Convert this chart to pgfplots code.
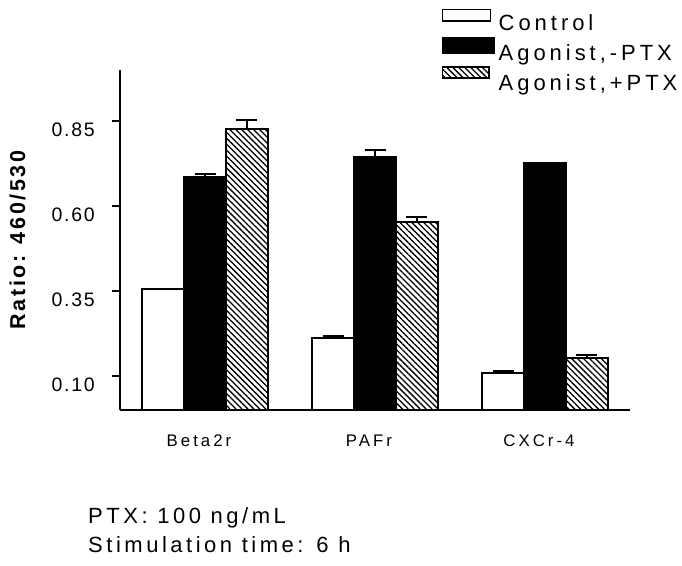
\documentclass[border=0pt]{standalone}
\usepackage{fontspec}
\setmainfont{Liberation Sans}
\usepackage{pgfplots}
\pgfplotsset{compat=1.18}
\usetikzlibrary{patterns.meta}
\newfontfamily\tickfont[LetterSpace=9]{Liberation Sans}
\newfontfamily\labfont[LetterSpace=18]{Liberation Sans}
\newfontfamily\botfont[LetterSpace=16]{Liberation Sans}
\newfontfamily\ylabfont[LetterSpace=12]{Liberation Sans}
\pgfplotstableread{
x y e
0 0.356 0.000
1 0.211 0.007
2 0.108 0.008
}\ctrl
\pgfplotstableread{
x y e
0 0.684 0.009
1 0.745 0.020
2 0.726 0.000
}\agminus
\pgfplotstableread{
x y e
0 0.826 0.026
1 0.552 0.015
2 0.154 0.007
}\agplus
\begin{document}
\begin{tikzpicture}
\path[use as bounding box] (0,0) rectangle (682pt,-565pt);
\begin{axis}[
  at={(120pt,-410pt)}, anchor=south west,
  scale only axis, width=510pt, height=340pt,
  xmin=-0.5, xmax=2.5, ymin=0, ymax=1,
  axis x line*=bottom, axis y line*=left,
  axis line style={line width=2pt, black},
  xtick={0,1,2}, xticklabels={Beta2r,PAFr,CXCr-4},
  xtick style={draw=none},
  xticklabel style={font=\fontsize{16.8}{17}\labfont, inner sep=0pt, yshift=-17pt, xshift=-6pt},
  ytick={0.10,0.35,0.60,0.85},
  yticklabels={0.10,0.35,0.60,0.85},
  ytick style={line width=2pt, black},
  tick align=outside, major tick length=8pt,
  yticklabel style={font=\fontsize{19.5}{20}\tickfont, anchor=east, inner sep=0pt, yshift=-9pt, xshift=-17pt},
  ylabel={Ratio: 460/530},
  ylabel style={font=\fontsize{21.5}{21.5}\bfseries\ylabfont, at={(axis description cs:-0.201,0.5)}, anchor=center},
  ybar, bar width=0.247,
  legend style={at={(axis description cs:0.6308,1.188)}, anchor=north west, draw=none, fill=none,
     inner sep=0pt, outer sep=0pt, row sep=0pt, column sep=4pt,
     nodes={inner sep=0pt, text height=24pt, text depth=6pt, font=\fontsize{22}{22}\labfont}},
  legend cell align=left,
]
\addplot[ybar, bar shift=-0.247, fill=white, draw=black, line width=2pt,
  legend image code/.code={\draw[black, fill=white, line width=1.5pt] (0pt,0.3pt) rectangle (48pt,11.7pt);},
  error bars/.cd, y dir=plus, y explicit,
  error bar style={line width=2pt, black},
  error mark options={rotate=90, mark size=10.5pt, line width=2pt, black}]
  table[x=x, y=y, y error=e] {\ctrl};
\addlegendentry{Control}
\addplot[ybar, bar shift=0, fill=black, draw=black, line width=2pt,
  legend image code/.code={\fill[black] (0pt,-2.3pt) rectangle (51pt,12.7pt);},
  error bars/.cd, y dir=plus, y explicit,
  error bar style={line width=2pt, black},
  error mark options={rotate=90, mark size=10.5pt, line width=2pt, black}]
  table[x=x, y=y, y error=e] {\agminus};
\addlegendentry{Agonist,-PTX}
\addplot[ybar, bar shift=0.247, pattern={Lines[angle=-45, distance=4.2pt, line width=1.3pt]}, pattern color=black, draw=black, line width=2pt,
  legend image code/.code={\draw[black, line width=1.5pt, pattern={Lines[angle=-45, distance=4.2pt, line width=1.3pt]}, pattern color=black] (0pt,3.7pt) rectangle (46.3pt,15pt);},
  error bars/.cd, y dir=plus, y explicit,
  error bar style={line width=2pt, black},
  error mark options={rotate=90, mark size=10.5pt, line width=2pt, black}]
  table[x=x, y=y, y error=e] {\agplus};
\addlegendentry{Agonist,+PTX}
\end{axis}
\node[anchor=base west, inner sep=0pt, font=\fontsize{22}{23}\botfont] at (88pt,-523pt) {PTX: 100 ng/mL};
\node[anchor=base west, inner sep=0pt, font=\fontsize{22}{23}\botfont] at (88pt,-552pt) {Stimulation time: 6 h};
\end{tikzpicture}
\end{document}
